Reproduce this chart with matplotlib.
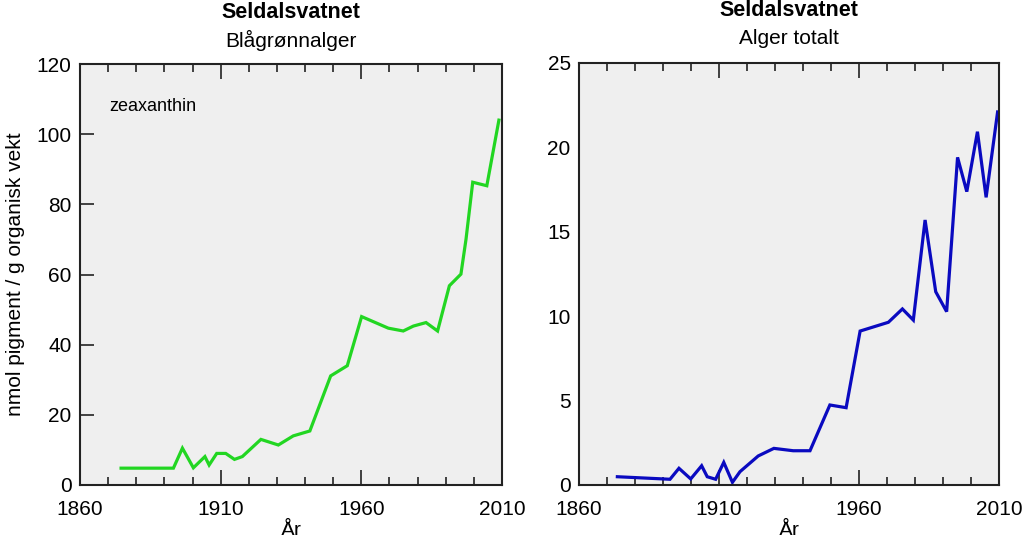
import numpy as np
import matplotlib
matplotlib.use('Agg')
import matplotlib.pyplot as plt
from matplotlib.ticker import MultipleLocator, FixedLocator

plt.rcParams['font.family'] = ['Liberation Sans', 'DejaVu Sans']

# zeaxanthin (Blaagroennalger)
years_zea = [1874.6, 1893.2, 1896.4, 1900.3, 1904.4, 1905.9, 1908.6, 1911.8, 1914.9,
             1917.7, 1924.3, 1930.5, 1935.8, 1941.7, 1949.1, 1955.0, 1960.1, 1969.6,
             1974.9, 1978.5, 1983.0, 1987.1, 1991.3, 1995.4, 1997.2, 1999.6, 2004.6, 2008.9]
zea = [4.8, 4.8, 10.5, 4.9, 8.1, 5.7, 9.0, 9.0, 7.3,
       8.1, 13.0, 11.4, 14.0, 15.4, 31.1, 34.0, 48.0, 44.7,
       43.9, 45.3, 46.3, 43.9, 56.8, 60.1, 70.0, 86.3, 85.3, 104.0]

# Alger totalt
years_tot = [1873.7, 1892.5, 1895.7, 1899.9, 1903.8, 1905.8, 1908.8, 1911.7, 1914.8,
             1917.5, 1924.0, 1929.6, 1936.5, 1942.5, 1949.6, 1955.4, 1960.4, 1970.5,
             1975.5, 1979.4, 1983.6, 1987.4, 1991.3, 1995.2, 1998.5, 2002.3, 2005.4, 2009.5]
tot = [0.49, 0.34, 0.99, 0.36, 1.14, 0.49, 0.34, 1.34, 0.16,
       0.79, 1.72, 2.17, 2.03, 2.03, 4.74, 4.58, 9.12, 9.64,
       10.43, 9.77, 15.7, 11.45, 10.27, 19.41, 17.38, 20.93, 17.04, 22.1]

x_major = [1860, 1910, 1960, 2010]

fig = plt.figure(figsize=(10.24, 5.35), dpi=100)
W, H = 1024, 535
ax1 = fig.add_axes([80 / W, 1 - 485 / H, 422 / W, 421 / H])
ax2 = fig.add_axes([579 / W, 1 - 485 / H, 420 / W, 422 / H])

panels = [
    (ax1, years_zea, zea, '#22d622', 'Blågrønnalger', (0, 120), 20),
    (ax2, years_tot, tot, '#0a0ac0', 'Alger totalt', (0, 25), 5),
]

fs = 15
for ax, x, y, col, sub, ylim, ystep in panels:
    ax.set_facecolor('#efefef')
    ax.plot(x, y, color=col, lw=2.3, solid_joinstyle='miter')
    ax.set_xlim(1860, 2010)
    ax.set_ylim(*ylim)
    ax.xaxis.set_major_locator(FixedLocator(x_major))
    ax.xaxis.set_minor_locator(MultipleLocator(10))
    ax.yaxis.set_major_locator(MultipleLocator(ystep))
    ax.tick_params(axis='x', which='major', direction='in', top=True, length=11, width=1.2,
                   labelsize=fs, pad=11, color='#222222')
    ax.tick_params(axis='x', which='minor', direction='in', top=True, length=6, width=1.2,
                   color='#222222')
    ax.tick_params(axis='y', direction='in', length=10, width=1.2, labelsize=fs, pad=6,
                   color='#222222')
    for s in ax.spines.values():
        s.set_linewidth(1.5)
        s.set_color('#222222')
    ax.set_xlabel('År', fontsize=fs, labelpad=1)
    ax.text(0.5, (485 - 40) / 421, sub, transform=ax.transAxes, ha='center', va='center',
            fontsize=fs)
    ax.text(0.5, (485 - 12) / 421, 'Seldalsvatnet', transform=ax.transAxes, ha='center',
            va='center', fontsize=15.5, fontweight='bold')

ax2.tick_params(axis='y', length=0)
ax1.set_ylabel('nmol pigment / g organisk vekt', fontsize=fs, labelpad=8)
ax1.text(0.07, 0.9, 'zeaxanthin', transform=ax1.transAxes, ha='left', va='center',
         fontsize=13)

fig.savefig('out.png', dpi=100)
